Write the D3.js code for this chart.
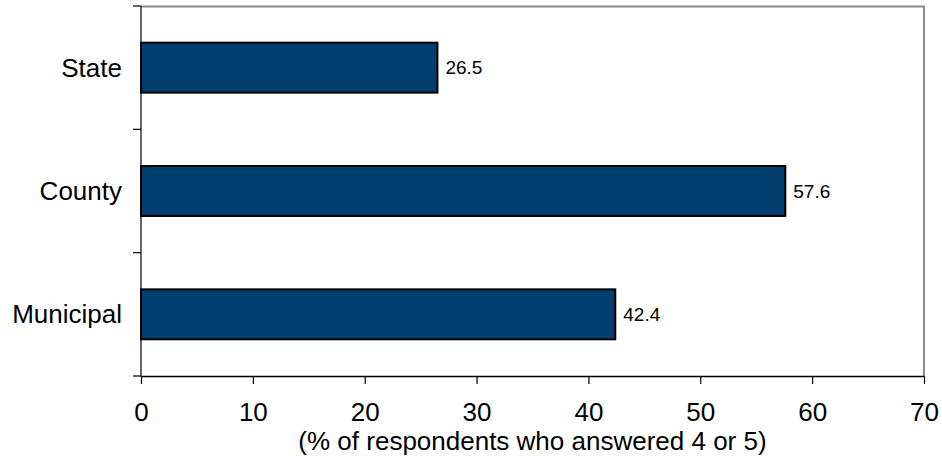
<!DOCTYPE html>
<html>
<head>
<meta charset="utf-8">
<script src="https://cdn.jsdelivr.net/npm/d3@7"></script>
<style>
  body { margin: 0; background: #fff; }
  svg { display: block; font-family: "Liberation Sans", Arial, sans-serif; }
</style>
</head>
<body>
<svg id="chart"></svg>
<script>
const categories = ["State", "County", "Municipal"]
const values = [26.5, 57.6, 42.4]
const xTicks = [0, 10, 20, 30, 40, 50, 60, 70]
const xTitle = "(% of respondents who answered 4 or 5)"

const width = 942, height = 468
const margin = {top: 6, right: 18, bottom: 92, left: 141}

const svg = d3.select("#chart")
  .attr("width", width)
  .attr("height", height)

const x = d3.scaleLinear()
  .domain([0, 70])
  .range([margin.left, width - margin.right])

const y = d3.scaleBand()
  .domain(categories)
  .range([margin.top, height - margin.bottom])
  .paddingInner(0.595)
  .paddingOuter(0.2975)

// gray frame on top and right
svg.append("path")
  .attr("d", `M${x(0)},${margin.top + 0.5}H${x(70)}V${height - margin.bottom}`)
  .attr("fill", "none")
  .attr("stroke", "#8c8c8c")
  .attr("stroke-width", 2)

// bars
svg.append("g")
  .selectAll("rect")
  .data(values)
  .join("rect")
  .attr("x", x(0))
  .attr("y", (d, i) => y(categories[i]))
  .attr("width", d => x(d) - x(0))
  .attr("height", y.bandwidth())
  .attr("fill", "#003f6f")
  .attr("stroke", "#000")
  .attr("stroke-width", 2)

// value labels
svg.append("g")
  .selectAll("text")
  .data(values)
  .join("text")
  .attr("x", d => x(d) + 8)
  .attr("y", (d, i) => y(categories[i]) + y.bandwidth() / 2)
  .attr("dy", "0.35em")
  .attr("font-size", 19)
  .text(d => d.toFixed(1))

// left axis: ticks at band boundaries
const yAxis = svg.append("g")
const step = (height - margin.bottom - margin.top) / categories.length
yAxis.append("line")
  .attr("x1", x(0)).attr("x2", x(0))
  .attr("y1", margin.top).attr("y2", height - margin.bottom)
  .attr("stroke", "#000").attr("stroke-width", 1.2)
yAxis.selectAll(".tk")
  .data(d3.range(categories.length + 1))
  .join("line")
  .attr("x1", x(0) - 8).attr("x2", x(0))
  .attr("y1", i => margin.top + i * step)
  .attr("y2", i => margin.top + i * step)
  .attr("stroke", "#000").attr("stroke-width", 1.2)

yAxis.selectAll("text")
  .data(categories)
  .join("text")
  .attr("x", x(0) - 19)
  .attr("y", d => y(d) + y.bandwidth() / 2)
  .attr("dy", "0.35em")
  .attr("text-anchor", "end")
  .attr("font-size", 26)
  .text(d => d)

// bottom axis
const xAxis = svg.append("g")
  .attr("transform", `translate(0, ${height - margin.bottom})`)
  .call(d3.axisBottom(x).tickValues(xTicks).tickSize(8).tickPadding(19).tickSizeOuter(0))
xAxis.select(".domain").attr("stroke", "#000").attr("stroke-width", 1.5)
xAxis.selectAll(".tick line").attr("stroke", "#000").attr("stroke-width", 1.2)
xAxis.selectAll(".tick text").attr("font-size", 26).attr("fill", "#000")
  .attr("font-family", "Liberation Sans, Arial, sans-serif")

svg.append("text")
  .attr("x", (x(0) + x(70)) / 2)
  .attr("y", 450)
  .attr("text-anchor", "middle")
  .attr("font-size", 26)
  .text(xTitle)
</script>
</body>
</html>
